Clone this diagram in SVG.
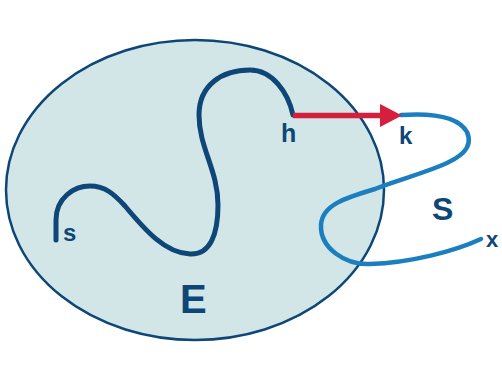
<svg xmlns="http://www.w3.org/2000/svg" width="502" height="392" viewBox="0 0 502 392">
<style>
.lbl{font-family:"Liberation Sans",Arial,sans-serif;font-weight:bold;fill:#0d4677}
.dark{fill:none;stroke:#0d4677;stroke-width:5;stroke-linecap:round;stroke-linejoin:round}
.blue{fill:none;stroke:#1b7fbf;stroke-width:4.5;stroke-linecap:round;stroke-linejoin:round}
</style>
<rect width="502" height="392" fill="#ffffff"/>
<g id="E">
<ellipse cx="195" cy="190" rx="189" ry="150" fill="#d2e6e8" stroke="#0d4677" stroke-width="2.5"/>
<text class="lbl" x="180" y="313" font-size="40">E</text>
</g>
<g id="connectors">
<path id="pathE" class="dark" d="M56,240 L56,220 C56,198 74,186 90,186 C105,186 114,194 125,206 C145,230 165,253 190,254 C210,255 218,235 218,205 C218,170 199,148 199,115 C199,85 222,70 250,70 C272,70 288,92 293,115"/>
<path id="pathS" class="blue" d="M401,115 C430,113 458,116 467,132 C474,148 460,158 440,166 C415,176 395,181 375,189 C345,198 322,205 321,225 C320,248 345,265 370,264 C410,263 455,251 481,239"/>
<g id="arrow">
<line x1="293" y1="115.5" x2="384" y2="115.5" stroke="#d51f3f" stroke-width="5.5"/>
<polygon points="380,104 402,115.5 380,127" fill="#d51f3f"/>
</g>
</g>
<g id="S">
<text class="lbl" x="432" y="220" font-size="32">S</text>
</g>
<g id="labels">
<text class="lbl" x="63" y="241" font-size="24">s</text>
<text class="lbl" x="281" y="142" font-size="25">h</text>
<text class="lbl" x="399" y="144" font-size="24">k</text>
<text class="lbl" x="486" y="247" font-size="22">x</text>
</g>
</svg>
